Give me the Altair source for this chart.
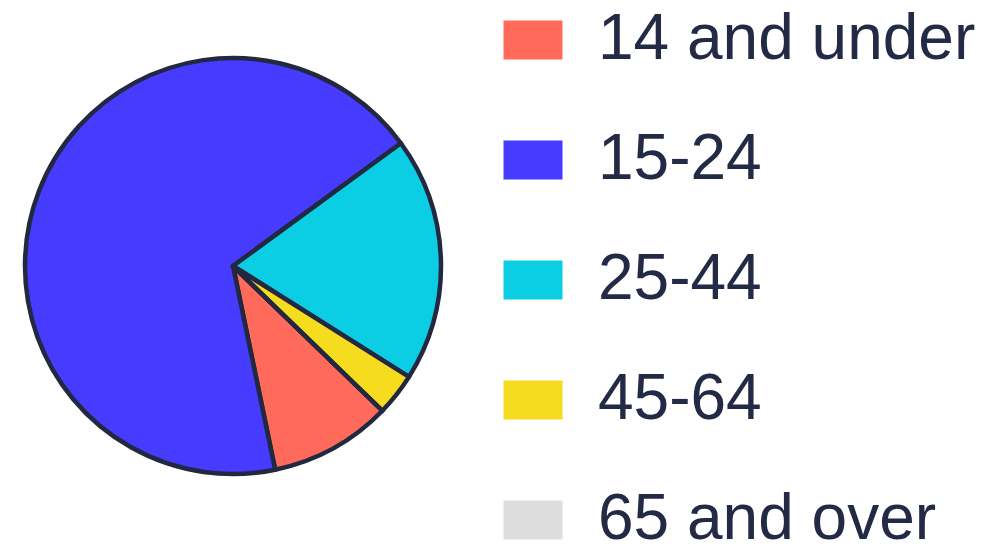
import math
import altair as alt
import pandas as pd

categories = ["14 and under", "15-24", "25-44", "45-64", "65 and over"]
values = [9.5, 68.2, 19.0, 3.3, 0.0]
colors = ["#FF6A5B", "#463BFF", "#0BCEE4", "#F5DC1F", "#DDDDDD"]

df = pd.DataFrame({"age": categories, "value": values, "order": list(range(len(categories)))})

start = math.radians(134.1)

chart = (
    alt.Chart(df)
    .mark_arc(radius=208, stroke="#22283F", strokeWidth=4.5, strokeJoin="round")
    .encode(
        theta=alt.Theta("value:Q", stack=True, scale=alt.Scale(range=[start, start + 2 * math.pi])),
        order=alt.Order("order:Q"),
        color=alt.Color(
            "age:N",
            sort=categories,
            scale=alt.Scale(domain=categories, range=colors),
            legend=alt.Legend(
                title=None,
                orient="right",
                offset=43,
                symbolType="M-1,-0.661H1V0.661H-1Z",
                symbolSize=3481,
                symbolStrokeWidth=0,
                labelFont="Liberation Sans",
                labelFontSize=64,
                labelColor="#232A45",
                labelOffset=33,
                labelLimit=600,
                rowPadding=56,
            ),
        ),
    )
    .properties(width=450, height=516, padding=0)
    .configure_view(stroke=None)
)

chart.save("out.html", embed_options={"renderer": "svg", "actions": False})
